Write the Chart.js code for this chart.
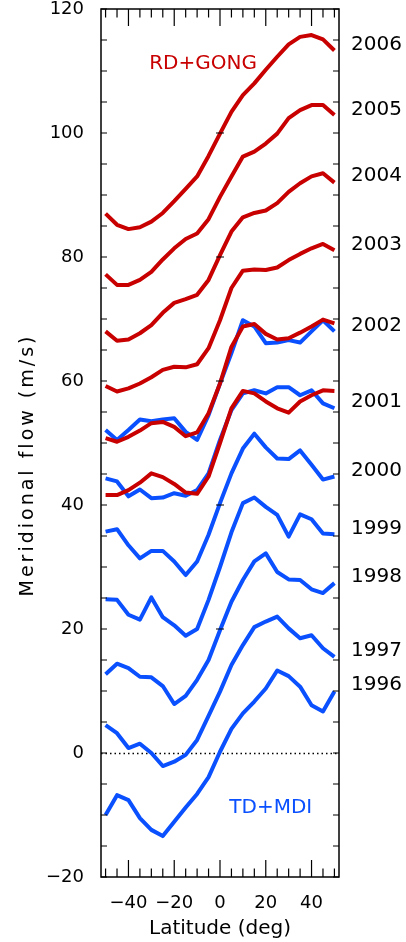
<!DOCTYPE html>
<html>
<head>
<meta charset="utf-8">
<script src="https://cdn.jsdelivr.net/npm/chart.js@4.4.1/dist/chart.umd.min.js"></script>
<style>
  html, body { margin: 0; padding: 0; background: #fff; }
  #wrap { width: 406px; height: 942px; }
</style>
</head>
<body>
<div id="wrap"><canvas id="c" width="406" height="942"></canvas></div>
<script>
// latitude of every point (deg)
const lat = [-50, -45, -40, -35, -30, -25, -20, -15, -10, -5, 0, 5, 10, 15, 20, 25, 30, 35, 40, 45, 50];

// TD+MDI (blue), m/s, curves shifted by year
const td1996 = [-10.0, -6.8, -7.6, -10.5, -12.4, -13.4, -11.1, -8.8, -6.6, -3.9, 0.2, 3.9, 6.4, 8.3, 10.4, 13.3, 12.4, 10.7, 7.7, 6.7, 9.9];
const td1997 = [4.5, 3.2, 0.8, 1.5, 0.0, -2.1, -1.4, -0.3, 2.1, 6.0, 9.9, 14.2, 17.4, 20.3, 21.2, 22.0, 20.1, 18.5, 19.0, 16.9, 15.5];
const td1998 = [12.7, 14.4, 13.7, 12.3, 12.2, 10.8, 7.9, 9.2, 11.8, 15.0, 19.8, 24.4, 27.9, 30.9, 32.2, 29.2, 28.0, 27.9, 26.4, 25.8, 27.4];
const td1999 = [24.8, 24.7, 22.3, 21.5, 25.1, 21.9, 20.6, 18.9, 20.0, 24.7, 30.0, 35.6, 40.3, 41.2, 39.7, 38.4, 34.9, 38.5, 37.7, 35.4, 35.3];
const td2000 = [35.7, 36.1, 33.5, 31.4, 32.6, 32.6, 30.9, 28.7, 30.9, 35.2, 40.3, 45.1, 49.1, 51.5, 49.3, 47.5, 47.4, 48.8, 46.5, 44.1, 44.6];
const td2001 = [44.3, 43.8, 41.4, 42.5, 41.1, 41.2, 41.9, 41.5, 42.4, 45.1, 50.5, 55.3, 58.0, 58.5, 58.0, 59.0, 59.0, 57.7, 58.5, 56.4, 55.6];
const td2002 = [52.1, 50.5, 52.1, 53.8, 53.5, 53.8, 54.0, 51.8, 50.5, 54.5, 59.6, 64.5, 69.8, 68.8, 66.1, 66.2, 66.6, 66.2, 68.0, 69.8, 68.0];

// RD+GONG (red)
const rd2001 = [41.6, 41.6, 42.4, 43.6, 45.1, 44.5, 43.4, 42.0, 41.8, 44.6, 50.0, 55.6, 58.4, 58.0, 56.7, 55.6, 54.9, 56.7, 57.7, 58.5, 58.4];
const rd2002 = [50.8, 50.2, 51.0, 52.0, 53.2, 53.4, 52.6, 51.1, 51.7, 54.8, 59.6, 65.5, 68.8, 69.2, 67.6, 66.7, 66.9, 67.8, 68.8, 69.9, 69.3];
const rd2003 = [59.2, 58.3, 58.8, 59.6, 60.6, 61.8, 62.3, 62.2, 62.7, 65.3, 69.8, 75.0, 77.8, 78.0, 77.9, 78.3, 79.5, 80.5, 81.4, 82.1, 81.1];
const rd2004 = [68.0, 66.5, 66.7, 67.7, 69.0, 71.0, 72.6, 73.2, 73.9, 76.3, 80.3, 84.1, 86.4, 87.1, 87.5, 88.7, 90.5, 91.9, 93.0, 93.5, 92.0];
const rd2005 = [77.2, 75.5, 75.5, 76.3, 77.6, 79.6, 81.4, 82.9, 83.8, 86.1, 89.7, 93.0, 96.2, 97.0, 98.3, 99.9, 102.4, 103.7, 104.5, 104.5, 102.9];
const rd2006 = [87.0, 85.2, 84.5, 84.8, 85.7, 87.1, 89.0, 91.0, 93.0, 96.3, 99.9, 103.4, 106.1, 108.0, 110.2, 112.3, 114.3, 115.5, 115.8, 115.1, 113.3];

// year names on the right and the flow value each sits at
const yearNames = ["2006", "2005", "2004", "2003", "2002", "2001", "2000", "1999", "1998", "1997", "1996"];
const yearAt = [114.2, 103.8, 93.1, 81.9, 68.9, 56.6, 45.5, 36.1, 28.4, 16.5, 11.0];

const xTicks = [-40, -20, 0, 20, 40];
const yTicks = [-20, 0, 20, 40, 60, 80, 100, 120];

const FONT = "DejaVu Sans";
const BLUE = "#0a50ff";
const RED = "#c80000";

const tdSeries = [td1996, td1997, td1998, td1999, td2000, td2001, td2002];
const rdSeries = [rd2001, rd2002, rd2003, rd2004, rd2005, rd2006];

function toPoints(arr) {
  return lat.map((x, i) => ({ x: x, y: arr[i] }));
}

let datasets = [];
for (let i = 0; i < rdSeries.length; i++) {
  datasets.push({
    label: "RD+GONG " + (2001 + i),
    data: toPoints(rdSeries[i]),
    borderColor: RED,
    borderWidth: 4,
    pointRadius: 0,
    tension: 0,
    borderJoinStyle: "round",
    order: 0,
  });
}
for (let i = 0; i < tdSeries.length; i++) {
  datasets.push({
    label: "TD+MDI " + (1996 + i),
    data: toPoints(tdSeries[i]),
    borderColor: BLUE,
    borderWidth: 4,
    pointRadius: 0,
    tension: 0,
    borderJoinStyle: "round",
    order: 1,
  });
}

function minus(v) {
  return String(v).replace("-", "\u2212");
}

//box, inward ticks, dotted zero line, y title and the two source labels
const frame = {
  id: "frame",
  beforeDatasetsDraw(chart) {
    const { ctx, chartArea: a, scales: { x, y } } = chart;
    const py = Math.round(y.getPixelForValue(0)) + 0.5;
    ctx.save();
    ctx.strokeStyle = "#000";
    ctx.lineWidth = 1.3;
    ctx.setLineDash([1.5, 3]);
    ctx.beginPath();
    ctx.moveTo(a.left, py);
    ctx.lineTo(a.right, py);
    ctx.stroke();
    ctx.restore();
  },
  afterDraw(chart) {
    const { ctx, chartArea: a, scales: { x, y } } = chart;
    ctx.save();
    ctx.strokeStyle = "#000";
    ctx.lineWidth = 1.5;
    ctx.strokeRect(a.left, a.top, a.right - a.left, a.bottom - a.top);
    ctx.lineWidth = 1.2;
    ctx.beginPath();
    for (let v = -50; v <= 50; v += 5) {
      const px = x.getPixelForValue(v);
      const len = v % 20 === 0 ? 17 : 8.5;
      ctx.moveTo(px, a.bottom);
      ctx.lineTo(px, a.bottom - len);
      ctx.moveTo(px, a.top);
      ctx.lineTo(px, a.top + len);
    }
    for (let v = -20; v <= 120; v += 5) {
      const py = y.getPixelForValue(v);
      ctx.moveTo(a.left, py);
      ctx.lineTo(a.left + 6, py);
      ctx.moveTo(a.right, py);
      ctx.lineTo(a.right - 6, py);
    }
    for (let v = 20; v <= 100; v += 20) {
      const py = y.getPixelForValue(v);
      const px = x.getPixelForValue(0);
      ctx.moveTo(px - 4, py);
      ctx.lineTo(px + 4, py);
    }
    ctx.stroke();

    ctx.font = "20px " + FONT;
    ctx.textAlign = "center";
    ctx.textBaseline = "middle";
    ctx.fillStyle = RED;
    ctx.fillText("RD+GONG", x.getPixelForValue(-7.4), y.getPixelForValue(111.1));
    ctx.fillStyle = BLUE;
    ctx.fillText("TD+MDI", x.getPixelForValue(22.2), y.getPixelForValue(-8.9));

    // y title, wide spaced like the original
    ctx.fillStyle = "#000";
    ctx.font = "19px " + FONT;
    ctx.letterSpacing = "3px";
    ctx.translate(28, (a.top + a.bottom) / 2 + 22);
    ctx.rotate(-Math.PI / 2);
    ctx.fillText("Meridional flow (m/s)", 0, 0);
    ctx.restore();
  },
};

const canvas = document.getElementById("c");

new Chart(canvas, {
  type: "line",
  data: { datasets: datasets },
  plugins: [frame],
  options: {
    animation: false,
    responsive: false,
    events: [],
    layout: { padding: { top: 9, left: 0, right: 0, bottom: 0 } },
    plugins: { legend: { display: false }, tooltip: { enabled: false } },
    scales: {
      x: {
        type: "linear",
        min: -52,
        max: 52,
        afterBuildTicks: (s) => {
          s.ticks = xTicks.map((v) => ({ value: v }));
        },
        afterFit: (s) => {
          s.height = 65;
          s.paddingLeft = 0;
          s.paddingRight = 0;
        },
        grid: { display: false },
        border: { display: false },
        ticks: {
          font: { family: FONT, size: 18 },
          color: "#000",
          padding: 8,
          maxRotation: 0,
          autoSkip: false,
          callback: (v) => minus(v),
        },
        title: {
          display: true,
          text: "Latitude (deg)",
          font: { family: FONT, size: 20 },
          color: "#000",
          padding: { top: 0, bottom: 1 },
        },
      },
      y: {
        type: "linear",
        position: "left",
        min: -20,
        max: 120,
        afterBuildTicks: (s) => {
          s.ticks = yTicks.map((v) => ({ value: v }));
        },
        afterFit: (s) => {
          s.width = 101;
          s.paddingTop = 0;
          s.paddingBottom = 0;
        },
        grid: { display: false },
        border: { display: false },
        ticks: {
          font: { family: FONT, size: 18 },
          color: "#000",
          padding: 9,
          autoSkip: false,
          callback: (v) => minus(v),
        },
      },
      yr: {
        type: "linear",
        position: "right",
        min: -20,
        max: 120,
        afterBuildTicks: (s) => {
          s.ticks = yearAt.map((v) => ({ value: v }));
        },
        afterFit: (s) => {
          s.width = 67;
          s.paddingTop = 0;
          s.paddingBottom = 0;
        },
        grid: { display: false },
        border: { display: false },
        ticks: {
          font: { family: FONT, size: 20 },
          color: "#000",
          padding: 4,
          autoSkip: false,
          callback: (v, i) => yearNames[i],
        },
      },
    },
  },
});
</script>
</body>
</html>
